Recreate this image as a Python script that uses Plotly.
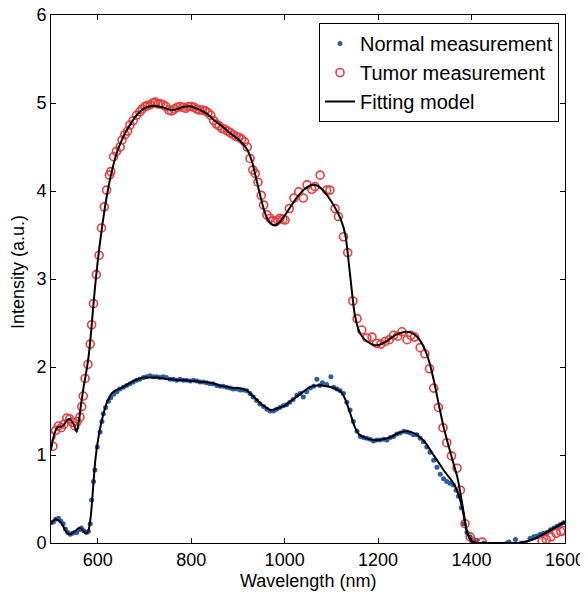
import plotly.graph_objects as go

# ---- Fitting model (tumor) ----
fit_t_wl = [500, 505, 510, 515, 520, 525, 530, 535, 540, 545, 550, 555, 560, 565, 570, 575, 580, 585, 590, 595,
            600, 605, 610, 615, 620, 630, 640, 650, 660, 670, 680, 690, 700, 710, 720, 730, 740, 750, 760, 770,
            780, 790, 800, 810, 820, 830, 840, 850, 860, 870, 880, 890, 900, 910, 920, 930, 940, 950, 960, 970,
            980, 990, 1000, 1010, 1020, 1030, 1040, 1050, 1060, 1070, 1080, 1090, 1100, 1110, 1120, 1130, 1140,
            1150, 1160, 1170, 1180, 1190, 1200, 1210, 1220, 1230, 1240, 1250, 1260, 1270, 1280, 1290, 1300, 1310,
            1320, 1330, 1340, 1350, 1360, 1370, 1380, 1390, 1400, 1410, 1420, 1440, 1460, 1480, 1500, 1510, 1520,
            1530, 1540, 1550, 1560, 1570, 1580, 1590, 1600]
fit_t_val = [1.06, 1.20, 1.28, 1.32, 1.32, 1.33, 1.36, 1.40, 1.41, 1.38, 1.33, 1.26, 1.40, 1.60, 1.78, 1.93, 2.10, 2.35, 2.66, 2.95,
             3.20, 3.42, 3.62, 3.80, 3.96, 4.22, 4.42, 4.56, 4.67, 4.76, 4.84, 4.90, 4.94, 4.96, 4.97, 4.96, 4.95, 4.93, 4.92, 4.93,
             4.95, 4.96, 4.96, 4.94, 4.92, 4.89, 4.85, 4.80, 4.76, 4.72, 4.67, 4.63, 4.59, 4.54, 4.47, 4.34, 4.12, 3.90, 3.72, 3.63,
             3.61, 3.65, 3.72, 3.80, 3.88, 3.95, 4.01, 4.05, 4.07, 4.06, 4.02, 3.96, 3.88, 3.79, 3.68, 3.50, 3.05,
             2.60, 2.40, 2.32, 2.28, 2.25, 2.25, 2.27, 2.30, 2.34, 2.37, 2.39, 2.40, 2.39, 2.36, 2.30, 2.20, 2.05,
             1.83, 1.57, 1.32, 1.12, 0.93, 0.74, 0.45, 0.14, 0.02, 0.0, 0.0, 0.0, 0.0, 0.0, 0.0, 0.01, 0.02,
             0.04, 0.06, 0.09, 0.12, 0.15, 0.18, 0.21, 0.24]

# ---- Fitting model (normal) ----
fit_n_wl = [500, 505, 510, 515, 520, 525, 530, 535, 540, 545, 550, 555, 560, 565, 570, 575, 580, 585, 590, 595,
            600, 605, 610, 615, 620, 630, 640, 650, 660, 670, 680, 690, 700, 710, 720, 730, 740, 750, 760, 770,
            780, 790, 800, 810, 820, 830, 840, 850, 860, 870, 880, 890, 900, 910, 920, 930, 940, 950, 960, 970,
            980, 990, 1000, 1010, 1020, 1030, 1040, 1050, 1060, 1070, 1080, 1090, 1100, 1110, 1120, 1130, 1140,
            1150, 1160, 1170, 1180, 1190, 1200, 1210, 1220, 1230, 1240, 1250, 1260, 1270, 1280, 1290, 1300, 1310,
            1320, 1330, 1340, 1350, 1360, 1370, 1380, 1390, 1400, 1410, 1420, 1440, 1460, 1480, 1500, 1510, 1520,
            1530, 1540, 1550, 1560, 1570, 1580, 1590, 1600]
fit_n_val = [0.22, 0.25, 0.27, 0.26, 0.24, 0.20, 0.15, 0.11, 0.10, 0.11, 0.13, 0.15, 0.17, 0.16, 0.13, 0.11, 0.14, 0.30, 0.62, 0.95,
             1.15, 1.30, 1.42, 1.52, 1.60, 1.70, 1.74, 1.76, 1.79, 1.82, 1.85, 1.87, 1.88, 1.88, 1.88, 1.88, 1.87, 1.86, 1.86, 1.85,
             1.85, 1.85, 1.84, 1.84, 1.83, 1.83, 1.82, 1.81, 1.79, 1.78, 1.77, 1.76, 1.76, 1.75, 1.73, 1.68, 1.63, 1.58, 1.54, 1.51,
             1.52, 1.54, 1.56, 1.60, 1.64, 1.68, 1.72, 1.76, 1.78, 1.79, 1.79, 1.78, 1.77, 1.75, 1.72, 1.63, 1.48,
             1.32, 1.23, 1.20, 1.18, 1.17, 1.17, 1.18, 1.19, 1.21, 1.24, 1.26, 1.27, 1.26, 1.24, 1.20, 1.15, 1.07,
             0.99, 0.91, 0.83, 0.76, 0.69, 0.58, 0.40, 0.13, 0.02, 0.0, 0.0, 0.0, 0.0, 0.0, 0.0, 0.01, 0.02,
             0.04, 0.06, 0.09, 0.12, 0.15, 0.18, 0.21, 0.24]

# ---- Tumor measurement ----
tumor_wl = [500, 504, 510, 516, 522, 528, 534, 540, 546, 551, 556, 562, 566, 569, 573, 579, 584, 587, 591, 597,
            603, 608, 614, 619, 625, 628, 634, 640, 648, 652, 658, 664, 669, 676, 683, 690, 695, 701, 706, 712,
            718, 723, 729, 734, 740, 746, 752, 758, 764, 770, 776, 782, 788, 794, 800, 806, 812, 818, 824, 830,
            836, 842, 848, 854, 860, 866, 872, 878, 884, 890, 896, 902, 908, 914, 920, 926, 932, 937, 943, 950,
            955, 962, 969, 975, 980, 985, 990, 996, 1001, 1010, 1020, 1030, 1040, 1048, 1058, 1065, 1076, 1090,
            1097, 1108, 1115, 1126, 1135, 1146, 1155, 1165, 1176, 1187, 1197, 1206, 1215, 1224, 1233, 1242, 1251,
            1262, 1270, 1278, 1290, 1300, 1310, 1319, 1329, 1339, 1347, 1357, 1369, 1376, 1386, 1397, 1405, 1423,
            1551, 1560, 1570, 1581, 1591, 1597]
tumor_val = [1.21, 1.10, 1.28, 1.33, 1.31, 1.35, 1.42, 1.41, 1.37, 1.33, 1.38, 1.43, 1.55, 1.67, 1.87, 2.03, 2.26, 2.48, 2.72, 3.05,
             3.27, 3.58, 3.82, 4.01, 4.18, 4.22, 4.39, 4.45, 4.50, 4.58, 4.64, 4.68, 4.75, 4.80, 4.86, 4.90, 4.93, 4.96, 4.97, 4.98,
             5.00, 5.01, 4.99, 4.99, 4.98, 4.96, 4.92, 4.91, 4.93, 4.95, 4.96, 4.95, 4.94, 4.96, 4.96, 4.95, 4.93, 4.92, 4.92, 4.91,
             4.89, 4.86, 4.80, 4.76, 4.74, 4.71, 4.70, 4.68, 4.66, 4.64, 4.62, 4.61, 4.59, 4.56, 4.50, 4.37, 4.24, 4.20, 4.10, 3.95,
             3.84, 3.73, 3.69, 3.66, 3.65, 3.67, 3.69, 3.68, 3.67, 3.80, 3.92, 3.99, 3.92, 4.07, 4.02, 4.05, 4.18, 4.01,
             4.01, 3.80, 3.71, 3.48, 3.30, 2.75, 2.55, 2.42, 2.33, 2.34, 2.27, 2.26, 2.29, 2.31, 2.36, 2.35, 2.40,
             2.31, 2.36, 2.34, 2.22, 2.15, 1.98, 1.76, 1.54, 1.31, 1.14, 0.99, 0.85, 0.60, 0.22, 0.07, 0.0, 0.01,
             0.02, 0.04, 0.07, 0.11, 0.13, 0.14]

# ---- Normal measurement ----
normal_wl = [500, 505, 510, 516, 521, 526, 531, 536, 541, 546, 551, 555, 560, 565, 570, 576, 580, 584, 587, 591,
             594, 599, 605, 609, 612, 617, 623, 628, 634, 641, 647, 655, 662, 669, 676, 683, 690, 698, 705, 712,
             719, 726, 733, 740, 747, 755, 762, 769, 776, 783, 790, 798, 805, 812, 819, 826, 833, 840, 847, 855,
             862, 869, 876, 883, 890, 898, 905, 912, 919, 926, 933, 940, 947, 955, 962, 969, 976, 983, 990, 997,
             1004, 1011, 1018, 1026, 1033, 1040, 1047, 1055, 1062, 1069, 1075, 1081, 1090, 1099, 1105, 1112, 1119,
             1126, 1133, 1140, 1147, 1155, 1162, 1169, 1176, 1183, 1190, 1197, 1204, 1212, 1219, 1226, 1233, 1240,
             1247, 1255, 1262, 1269, 1276, 1283, 1290, 1297, 1304, 1311, 1319, 1326, 1333, 1340, 1347, 1354, 1361,
             1367, 1372, 1378, 1383, 1390, 1397, 1405, 1412, 1426, 1476, 1480, 1494, 1510, 1525, 1533, 1540, 1547,
             1554, 1561, 1569, 1576, 1583, 1590, 1597]
normal_val = [0.23, 0.24, 0.27, 0.28, 0.25, 0.22, 0.16, 0.12, 0.10, 0.11, 0.12, 0.12, 0.15, 0.17, 0.14, 0.12, 0.13, 0.22, 0.49, 0.70,
              0.83, 1.09, 1.26, 1.38, 1.47, 1.54, 1.61, 1.65, 1.69, 1.72, 1.75, 1.77, 1.79, 1.81, 1.83, 1.85, 1.86, 1.88, 1.89, 1.90,
              1.89, 1.89, 1.88, 1.89, 1.88, 1.86, 1.86, 1.85, 1.86, 1.85, 1.85, 1.84, 1.85, 1.84, 1.83, 1.83, 1.82, 1.81, 1.81, 1.79,
              1.78, 1.78, 1.77, 1.76, 1.75, 1.75, 1.74, 1.74, 1.73, 1.70, 1.66, 1.62, 1.58, 1.55, 1.52, 1.50, 1.50, 1.52, 1.54, 1.56,
              1.57, 1.60, 1.63, 1.68, 1.70, 1.66, 1.72, 1.76, 1.78, 1.86, 1.79, 1.82, 1.80, 1.89, 1.77, 1.75, 1.73,
              1.70, 1.60, 1.51, 1.38, 1.27, 1.21, 1.20, 1.19, 1.18, 1.16, 1.17, 1.17, 1.18, 1.17, 1.20, 1.21, 1.24,
              1.25, 1.27, 1.26, 1.25, 1.23, 1.23, 1.19, 1.15, 1.09, 1.03, 0.94, 0.86, 0.78, 0.73, 0.70, 0.68, 0.66,
              0.60, 0.53, 0.40, 0.22, 0.12, 0.07, 0.04, 0.03, 0.0, 0.0, 0.01, 0.04, 0.0, 0.05, 0.07, 0.08, 0.10,
              0.11, 0.12, 0.15, 0.17, 0.19, 0.21, 0.23]

x_ticks = [600, 800, 1000, 1200, 1400, 1600]
y_ticks = [0, 1, 2, 3, 4, 5, 6]
x_title = "Wavelength (nm)"
y_title = "Intensity (a.u.)"

FONT = "Liberation Sans, Arial, sans-serif"

fig = go.Figure()
fig.add_trace(go.Scatter(x=normal_wl, y=normal_val, mode="markers", name="Normal measurement",
                         marker=dict(symbol="circle", size=5, color="#2a5caa")))
fig.add_trace(go.Scatter(x=tumor_wl, y=tumor_val, mode="markers", name="Tumor measurement",
                         marker=dict(symbol="circle-open", size=8, color="#ec3b3b", line=dict(width=1.6))))
fig.add_trace(go.Scatter(x=fit_t_wl, y=fit_t_val, mode="lines", name="Fitting model",
                         line=dict(color="black", width=2, shape="spline", smoothing=0.6)))
fig.add_trace(go.Scatter(x=fit_n_wl, y=fit_n_val, mode="lines", name="Fitting model", showlegend=False,
                         line=dict(color="black", width=2, shape="spline", smoothing=0.6)))

axis_common = dict(showline=True, linecolor="black", linewidth=1, mirror="ticks", ticks="inside",
                   ticklen=5, tickcolor="black", showgrid=False, zeroline=False, automargin=False,
                   ticklabeloverflow="allow",
                   tickfont=dict(family=FONT, size=18, color="black"))

# The page body has an 8 px margin, so the figure is laid out in coordinates shifted by 8 px.
OFF = 8
W, H = 588 - OFF, 592 - OFF
PL, PR, PT, PB = 51 - OFF, 565 - OFF, 15 - OFF, 543 - OFF  # plot-area box in figure pixels

fig.update_layout(
    width=W, height=H,
    margin=dict(l=PL, r=W - PR, t=PT, b=H - PB),
    plot_bgcolor="white", paper_bgcolor="white",
    font=dict(family=FONT, size=18, color="black"),
    xaxis=dict(range=[500, 1600], tickvals=x_ticks, ticktext=[str(v) for v in x_ticks], **axis_common),
    yaxis=dict(range=[0, 6], tickvals=y_ticks, ticktext=[str(v) for v in y_ticks], **axis_common),
    legend=dict(x=(559 - OFF - PL) / (PR - PL), y=(PB - (23 - OFF)) / (PB - PT), xanchor="right", yanchor="top",
                bgcolor="white", bordercolor="black", borderwidth=1, font=dict(family=FONT, size=20),
                tracegroupgap=0, itemwidth=30),
    showlegend=True,
    annotations=[
        dict(text=x_title, xref="paper", yref="paper", x=0.5, y=-((581 - OFF) - PB) / (PB - PT),
             xanchor="center", yanchor="middle", showarrow=False, font=dict(family=FONT, size=18)),
        dict(text=y_title, xref="paper", yref="paper", x=-(PL - (18 - OFF)) / (PR - PL),
             y=(PB - (272 - OFF)) / (PB - PT),
             xanchor="center", yanchor="middle", textangle=-90, showarrow=False,
             font=dict(family=FONT, size=18)),
    ],
)

fig.write_html("out.html")
